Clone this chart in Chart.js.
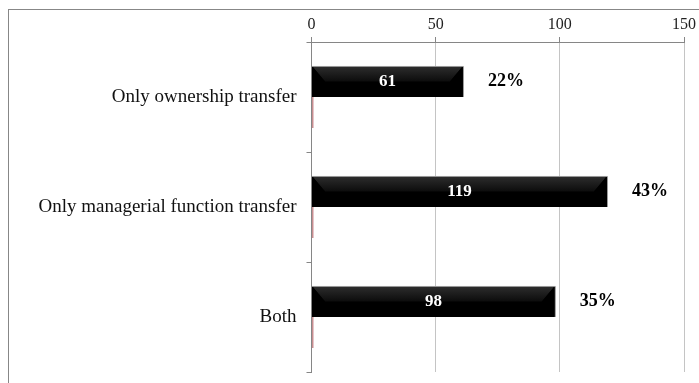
<!DOCTYPE html>
<html>
<head>
<meta charset="utf-8">
<script src="https://cdn.jsdelivr.net/npm/chart.js@4"></script>
<style>
  html, body { margin: 0; padding: 0; background: #fff; }
  #chart { width: 699px; height: 383px; }
</style>
</head>
<body>
<div id="chart"><canvas id="c" width="699" height="383"></canvas></div>
<script>
let categories = ["Only ownership transfer", "Only managerial function transfer", "Both"];
let counts = [61, 119, 98];
let shares = [0.8, 0.8, 0.8];
let percentLabels = ["22%", "43%", "35%"];
let xTicks = [0, 50, 100, 150];

let serif = "'Liberation Serif', 'Times New Roman', serif";

// outer frame of the figure
let framePlugin = {
  id: "frame",
  beforeDraw(chart) {
    let ctx = chart.ctx;
    ctx.save();
    ctx.fillStyle = "#fff";
    ctx.fillRect(0, 0, chart.width, chart.height);
    ctx.strokeStyle = "#878787";
    ctx.lineWidth = 1;
    ctx.strokeRect(8.5, 9.5, 800, 500);
    ctx.restore();
  }
};

// bevel look on the black bars, values inside, percentages beside
let bevelPlugin = {
  id: "bevel",
  afterDatasetsDraw(chart) {
    let ctx = chart.ctx;
    let meta = chart.getDatasetMeta(0);
    meta.data.forEach((bar, i) => {
      let x0 = bar.base, x1 = bar.x;
      let y0 = bar.y - bar.height / 2, y1 = bar.y + bar.height / 2;
      let ym = bar.y;
      let b = 13;
      ctx.save();
      // top face
      let g = ctx.createLinearGradient(0, y0, 0, ym);
      g.addColorStop(0, "#2e2e2e");
      g.addColorStop(1, "#0c0c0c");
      ctx.fillStyle = g;
      ctx.beginPath();
      ctx.moveTo(x0, y0); ctx.lineTo(x1, y0); ctx.lineTo(x1 - b, ym); ctx.lineTo(x0 + b, ym);
      ctx.closePath(); ctx.fill();
      // left and right faces
      ctx.fillStyle = "#000";
      ctx.beginPath();
      ctx.moveTo(x0, y0); ctx.lineTo(x0 + b, ym); ctx.lineTo(x0, y1);
      ctx.closePath(); ctx.fill();
      ctx.beginPath();
      ctx.moveTo(x1, y0); ctx.lineTo(x1 - b, ym); ctx.lineTo(x1, y1);
      ctx.closePath(); ctx.fill();
      // thin edge
      ctx.strokeStyle = "#9a9a9a";
      ctx.lineWidth = 1;
      ctx.beginPath();
      ctx.moveTo(x0, y0 + 0.5); ctx.lineTo(x1 + 0.5, y0 + 0.5); ctx.lineTo(x1 + 0.5, y1);
      ctx.stroke();

      ctx.textBaseline = "middle";
      ctx.textAlign = "center";
      ctx.fillStyle = "#fff";
      ctx.font = "bold 17px " + serif;
      ctx.fillText(String(counts[i]), (x0 + x1) / 2, ym);
      ctx.textAlign = "left";
      ctx.fillStyle = "#000";
      ctx.font = "bold 18px " + serif;
      ctx.fillText(percentLabels[i], x1 + 25, ym);
      ctx.restore();
    });
  }
};

new Chart(document.getElementById("c").getContext("2d"), {
  type: "bar",
  data: {
    labels: categories,
    datasets: [
      {
        label: "Count",
        data: counts,
        backgroundColor: "#000",
        borderWidth: 0,
        barPercentage: 1,
        categoryPercentage: 0.564
      },
      {
        label: "Share",
        data: shares,
        backgroundColor: "#c98d90",
        borderWidth: 0,
        barPercentage: 1,
        categoryPercentage: 0.564
      }
    ]
  },
  options: {
    indexAxis: "y",
    responsive: false,
    animation: false,
    layout: { padding: { left: 0, top: 0, right: 13, bottom: 11 } },
    plugins: {
      legend: { display: false },
      tooltip: { enabled: false }
    },
    scales: {
      x: {
        position: "top",
        min: 0,
        max: 150,
        afterBuildTicks: s => { s.ticks = xTicks.map(v => ({ value: v })); },
        afterFit: s => { s.height = 42; },
        grid: { color: "#c4c4c4", tickColor: "#868686", tickLength: 5 },
        border: { color: "#868686" },
        ticks: { color: "#222", padding: 3, font: { family: serif, size: 16 } }
      },
      y: {
        afterFit: s => { s.width = 311.5; s.paddingTop = 0; s.paddingBottom = 0; },
        grid: { drawOnChartArea: false, tickColor: "#868686", tickLength: 5, offset: true },
        border: { color: "#868686" },
        ticks: { color: "#111", padding: 10, font: { family: serif, size: 19 } }
      }
    }
  },
  plugins: [framePlugin, bevelPlugin]
});
</script>
</body>
</html>
